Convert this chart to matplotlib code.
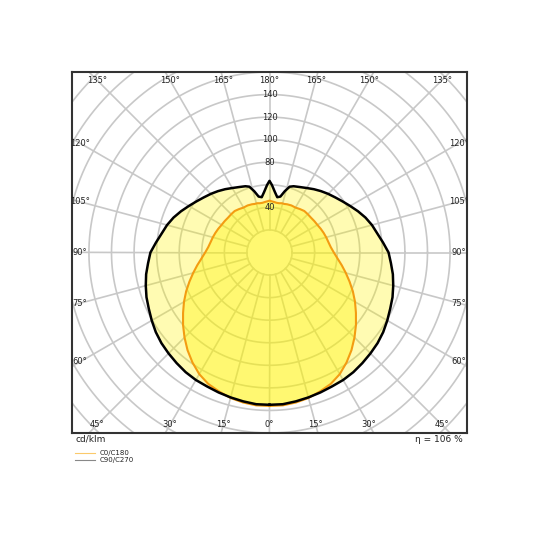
import numpy as np
import matplotlib
matplotlib.use('Agg')
import matplotlib.pyplot as plt
from matplotlib.lines import Line2D

# gamma angles (deg, 0 = nadir) and intensities in cd/klm, assumed symmetric
gamma = [0, 5, 10, 15, 20, 25, 30, 35, 40, 45, 50, 55, 60, 65, 70, 75, 80, 85,
         90, 95, 100, 105, 110, 115, 120, 125, 130, 135, 140, 145, 150, 155,
         160, 163, 166, 169, 172, 175, 178, 180]
c0_c180 = [136, 136, 135, 133.5, 131, 128.5, 124.5, 119, 113, 106.5, 100, 93.5,
           87.5, 81.5, 75.5, 70, 65, 60.5, 57, 54.5, 53, 52, 51, 50, 49, 48.5,
           48, 48, 48, 47, 46, 46, 45.5, 45, 45, 44.5, 44.5, 45, 45.5, 46]
c90_c270 = [135, 135, 134, 133, 132, 131, 130.5, 129.5, 128, 126.5, 125, 123,
            120.5, 118, 116, 113.5, 111, 108, 105.5, 101, 97, 94, 90.5, 86.5,
            82.5, 79, 76, 73.5, 71, 68.5, 66, 64, 62.5, 61, 56, 50.5, 49.5, 54, 60, 63.5]

ring_vals = np.arange(20, 260, 20)
spoke_angles = np.arange(0, 360, 15)
radial_labels = [40, 80, 100, 120, 140]
top_labels = [135, 150, 165, 180]
side_labels = [120, 105, 90, 75, 60]
bottom_labels = [45, 30, 15, 0]
eta = 106

XMAX, YMAX = 175, 160


def to_xy(g, r):
    g = np.radians(np.asarray(g, dtype=float))
    r = np.asarray(r, dtype=float)
    return r * np.sin(g), -r * np.cos(g)


def closed_curve(g, r):
    # right half from nadir up to 180, then mirrored back down the left side
    x, y = to_xy(g, r)
    xs = np.concatenate([x, -x[::-1]])
    ys = np.concatenate([y, y[::-1]])
    return xs, ys


fig = plt.figure(figsize=(5.4, 5.4), dpi=100)
ax = fig.add_axes([72/540, 107/540, 395/540, 361/540])
ax.set_xlim(-XMAX, XMAX)
ax.set_ylim(-YMAX, YMAX)
ax.set_xticks([])
ax.set_yticks([])
for s in ax.spines.values():
    s.set_color('#333333')
    s.set_linewidth(1.5)

# grid
t = np.linspace(0, 2*np.pi, 400)
for rv in ring_vals:
    ax.plot(rv*np.cos(t), rv*np.sin(t), color='#c8c8c8', lw=1.2, zorder=1)
for a in spoke_angles:
    ca, sa = np.cos(np.radians(a)), np.sin(np.radians(a))
    ax.plot([20*ca, 300*ca], [20*sa, 300*sa], color='#c8c8c8', lw=1.2, zorder=1)

# curves
xb, yb = closed_curve(gamma, c90_c270)
xo, yo = closed_curve(gamma, c0_c180)
ax.fill(xb, yb, color='#fff500', alpha=0.3, lw=0, zorder=2)
ax.fill(xo, yo, color='#fff500', alpha=0.36, lw=0, zorder=3)
ax.plot(xo, yo, color='#f39c12', lw=1.5, zorder=4)
ax.plot(xb, yb, color='black', lw=1.8, zorder=5)

# labels
fs = 6
for rv in radial_labels:
    ax.text(0, rv, str(rv), ha='center', va='center', fontsize=fs,
            color='#222222', zorder=6)

inset = 7.1
for g in top_labels:
    yl = YMAX - inset
    for sgn in ([1] if g == 180 else [-1, 1]):
        xl = sgn * yl * np.tan(np.radians(180 - g))
        ax.text(xl, yl, '%d°' % g, ha='center', va='center', fontsize=fs,
                color='#222222', clip_on=True, zorder=6)
for g in side_labels:
    xl = XMAX - inset
    yl = -xl / np.tan(np.radians(g))
    for sgn in [-1, 1]:
        ax.text(sgn*xl, yl, '%d°' % g, ha='center', va='center', fontsize=fs,
                color='#222222', clip_on=True, zorder=6)
for g in bottom_labels:
    yl = -(YMAX - inset)
    for sgn in ([1] if g == 0 else [-1, 1]):
        xl = sgn * (YMAX - inset) * np.tan(np.radians(g))
        ax.text(xl, yl, '%d°' % g, ha='center', va='center', fontsize=fs,
                color='#222222', clip_on=True, zorder=6)

# footer
fig.text(76/540, 1 - 439/540, 'cd/klm', ha='left', va='center', fontsize=6.5,
         color='#222222')
fig.text(463/540, 1 - 439/540, 'η = %d %%' % eta, ha='right', va='center',
         fontsize=6.5, color='#222222')
fig.add_artist(Line2D([75/540, 95/540], [1 - 453/540]*2, color='#fbc96b', lw=0.8))
fig.add_artist(Line2D([75/540, 95/540], [1 - 460/540]*2, color='#888888', lw=0.8))
fig.text(100/540, 1 - 452.5/540, 'C0/C180', ha='left', va='center', fontsize=5,
         color='#222222')
fig.text(100/540, 1 - 460/540, 'C90/C270', ha='left', va='center', fontsize=5,
         color='#222222')

fig.savefig('out.png', dpi=100)
